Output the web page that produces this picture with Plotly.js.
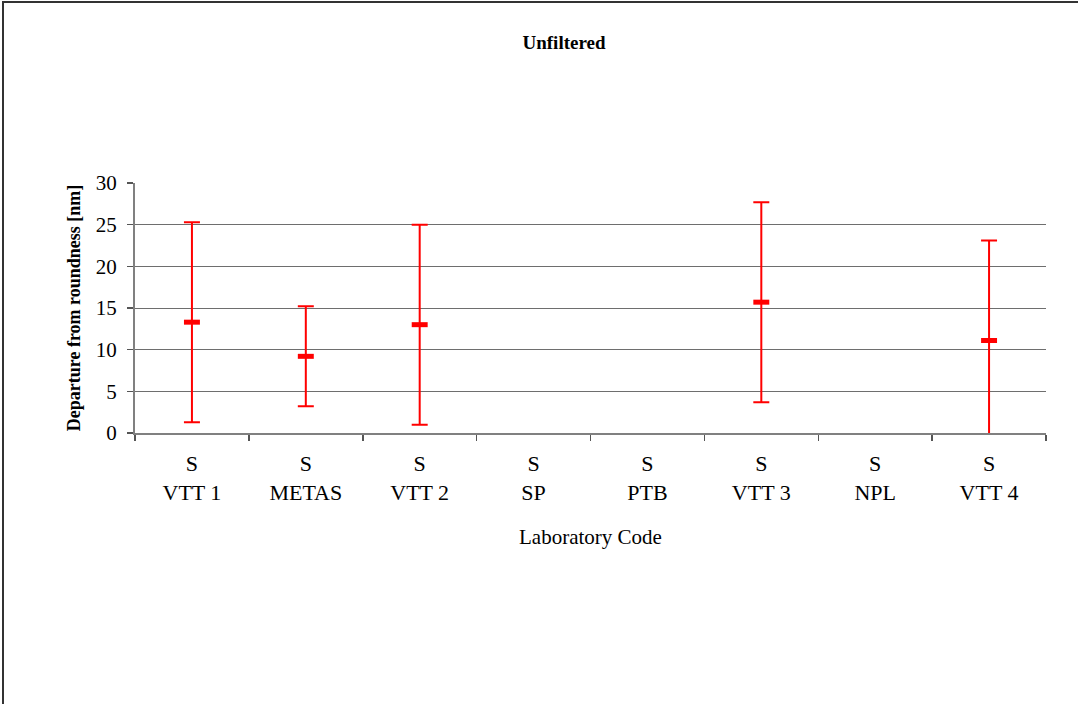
<!DOCTYPE html>
<html>
<head>
<meta charset="utf-8">
<script src="https://cdn.plot.ly/plotly-3.0.1.min.js"></script>
<style>
  html, body { margin: 0; padding: 0; background: #fff; }
  #frame { position: absolute; left: 2px; top: 1px; width: 1100px; height: 720px;
           border-top: 2px solid #333; border-left: 2px solid #333; box-sizing: border-box; }
  #chart { position: absolute; left: 0; top: 0; width: 1078px; height: 704px; }
</style>
</head>
<body>
<div id="frame"></div>
<div id="chart"></div>
<script>
const labs = ["VTT 1", "METAS", "VTT 2", "SP", "PTB", "VTT 3", "NPL", "VTT 4"];
const prefix = "S";
const values = [13.3, 9.2, 13.0, null, null, 15.7, null, 11.1];
const uncert = [12.0, 6.0, 12.0, null, null, 12.0, null, 12.0];
const yTicks = [0, 5, 10, 15, 20, 25, 30];

const serif = "Liberation Serif, Times New Roman, serif";
const cats = labs.map(l => prefix + "<br>" + l);

const trace = {
  type: "scatter",
  mode: "markers",
  x: cats,
  y: values,
  marker: { symbol: "line-ew", size: 11.4, color: "#ff0000",
            line: { color: "#ff0000", width: 5 } },
  error_y: { type: "data", array: uncert, visible: true,
             color: "#ff0000", thickness: 2, width: 8 },
  showlegend: false,
  hoverinfo: "x+y"
};

const layout = {
  width: 1078, height: 704,
  paper_bgcolor: "rgba(0,0,0,0)",
  plot_bgcolor: "rgba(0,0,0,0)",
  margin: { l: 135, r: 32, t: 183, b: 271 },
  font: { family: serif, color: "#000", size: 20 },
  title: { text: "<b>Unfiltered</b>", font: { family: serif, size: 19, color: "#000" },
           xref: "container", yref: "container", x: 564 / 1078, xanchor: "center",
           y: 1 - 42 / 704, yanchor: "middle" },
  xaxis: {
    type: "category",
    categoryorder: "array", categoryarray: cats,
    range: [-0.5, labs.length - 0.5],
    showline: true, linecolor: "#808080", linewidth: 2,
    showgrid: false, zeroline: false,
    ticks: "outside", tickson: "boundaries", ticklen: 6, tickcolor: "#555", tickwidth: 1.5,
    ticklabelstandoff: 10,
    tickfont: { family: serif, size: 22, color: "#000" },
    fixedrange: true
  },
  yaxis: {
    range: [0, 30],
    tickvals: yTicks,
    ticktext: yTicks.map(String),
    showline: true, linecolor: "#808080", linewidth: 2,
    showgrid: true, gridcolor: "#6e6e6e", gridwidth: 1,
    zeroline: false,
    ticks: "outside", ticklen: 6, tickcolor: "#555", tickwidth: 1.5,
    ticklabelstandoff: 6,
    tickfont: { family: serif, size: 21, color: "#000" },
    title: { text: "<b>Departure from roundness [nm]</b>", font: { family: serif, size: 18, color: "#000" }, standoff: 10 },
    fixedrange: true
  },
  annotations: [{
    text: "Laboratory Code", xref: "paper", yref: "paper",
    x: 0.5, y: -(537 - 433) / 250, xanchor: "center", yanchor: "middle",
    showarrow: false, font: { family: serif, size: 21, color: "#000" }
  }]
};

Plotly.newPlot("chart", [trace], layout, { displayModeBar: false, staticPlot: true });
</script>
</body>
</html>
